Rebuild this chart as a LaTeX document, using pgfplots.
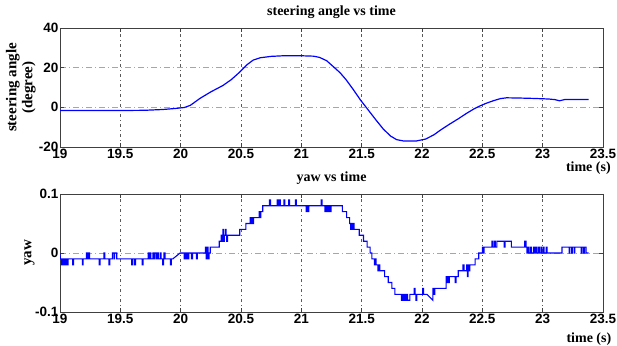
\documentclass[border=0pt]{standalone}
\usepackage{fontspec}
\setmainfont{Liberation Serif}
\newfontfamily\arialfont{Liberation Sans}
\usepackage{pgfplots}
\pgfplotsset{compat=1.18}
\usepackage{pgfplotstable}

\pgfplotstableread{
t s
19.00 -1.6
19.50 -1.6
19.70 -1.5
19.85 -1.1
19.95 -0.6
20.03 -0.1
20.08 1.0
20.16 4.5
20.25 7.8
20.35 11.0
20.42 14.0
20.49 17.8
20.55 21.5
20.60 23.8
20.66 25.0
20.75 25.7
20.85 26.0
21.00 26.0
21.10 25.8
21.15 25.2
21.21 23.5
21.26 20.8
21.32 17.5
21.37 14.0
21.43 9.0
21.49 3.7
21.55 -1.0
21.62 -6.5
21.68 -11.0
21.74 -14.5
21.79 -16.3
21.85 -17.0
21.95 -17.0
22.03 -16.0
22.10 -13.8
22.15 -11.6
22.22 -8.8
22.30 -5.8
22.37 -3.0
22.43 -0.8
22.48 0.7
22.53 2.0
22.59 3.3
22.65 4.4
22.70 4.8
22.80 4.7
22.92 4.5
23.05 4.2
23.10 3.9
23.14 3.3
23.18 3.9
23.25 4.0
23.38 4.0
}\steer

\pgfplotstableread{
t y
19.000 0
19.003 -0.01
19.012 -0.01
19.012 -0.02
19.018 -0.02
19.018 -0.01
19.025 -0.01
19.025 -0.02
19.035 -0.02
19.035 -0.01
19.045 -0.01
19.045 -0.02
19.052 -0.02
19.052 -0.01
19.060 -0.01
19.060 -0.02
19.066 -0.02
19.066 -0.01
19.105 -0.01
19.105 -0.02
19.113 -0.02
19.113 -0.01
19.185 -0.01
19.185 -0.02
19.192 -0.02
19.192 -0.01
19.218 -0.01
19.218 0
19.228 0
19.228 -0.01
19.235 -0.01
19.235 0
19.245 0
19.245 -0.01
19.325 -0.01
19.325 -0.02
19.333 -0.02
19.333 -0.01
19.365 -0.01
19.365 0
19.372 0
19.372 -0.01
19.405 -0.01
19.405 -0.02
19.413 -0.02
19.413 -0.01
19.435 -0.01
19.435 0
19.448 0
19.448 -0.01
19.452 -0.01
19.452 0
19.470 0
19.470 -0.01
19.595 -0.01
19.595 -0.02
19.603 -0.02
19.603 -0.01
19.618 -0.01
19.618 -0.02
19.626 -0.02
19.626 -0.01
19.680 -0.01
19.680 -0.02
19.688 -0.02
19.688 -0.01
19.730 -0.01
19.730 0
19.738 0
19.738 -0.01
19.745 -0.01
19.745 0
19.752 0
19.752 -0.01
19.770 -0.01
19.770 0
19.778 0
19.778 -0.01
19.785 -0.01
19.785 0
19.800 0
19.800 -0.01
19.808 -0.01
19.808 0
19.815 0
19.815 -0.01
19.830 -0.01
19.830 0
19.838 0
19.838 -0.01
19.850 -0.01
19.850 -0.02
19.858 -0.02
19.858 -0.01
19.862 -0.01
19.862 0
19.870 0
19.870 -0.01
19.915 -0.01
19.915 -0.02
19.922 -0.02
19.922 -0.01
19.935 -0.01
19.995 0
20.030 0
20.030 -0.01
20.038 -0.01
20.038 0
20.045 0
20.045 -0.01
20.052 -0.01
20.052 0
20.060 0
20.060 -0.01
20.068 -0.01
20.068 0
20.090 0
20.090 -0.01
20.098 -0.01
20.098 0
20.130 0
20.130 -0.01
20.138 -0.01
20.138 0
20.205 0
20.205 0.01
20.212 0.01
20.212 -0.01
20.220 -0.01
20.220 0.01
20.228 0.01
20.228 -0.01
20.235 -0.01
20.235 0
20.245 0
20.245 0.01
20.320 0.01
20.320 0.02
20.335 0.02
20.335 0.03
20.342 0.03
20.342 0.02
20.350 0.02
20.350 0.04
20.356 0.04
20.356 0.02
20.362 0.02
20.362 0.03
20.370 0.03
20.370 0.04
20.376 0.04
20.376 0.03
20.382 0.03
20.382 0.02
20.388 0.02
20.388 0.03
20.490 0.03
20.490 0.04
20.540 0.04
20.540 0.05
20.575 0.05
20.575 0.06
20.582 0.06
20.582 0.05
20.590 0.05
20.590 0.06
20.598 0.06
20.598 0.05
20.605 0.05
20.605 0.06
20.650 0.06
20.650 0.07
20.658 0.07
20.658 0.06
20.665 0.06
20.665 0.07
20.680 0.07
20.680 0.08
20.735 0.08
20.735 0.09
20.745 0.09
20.745 0.08
20.800 0.08
20.800 0.09
20.808 0.09
20.808 0.08
20.818 0.08
20.818 0.09
20.826 0.09
20.826 0.08
20.855 0.08
20.855 0.09
20.863 0.09
20.863 0.08
20.895 0.08
20.895 0.09
20.903 0.09
20.903 0.08
20.950 0.08
20.950 0.09
20.958 0.09
20.958 0.08
21.040 0.08
21.040 0.07
21.047 0.07
21.047 0.08
21.055 0.08
21.055 0.07
21.062 0.07
21.062 0.08
21.165 0.08
21.165 0.09
21.172 0.09
21.172 0.08
21.195 0.08
21.195 0.07
21.202 0.07
21.202 0.08
21.210 0.08
21.210 0.07
21.217 0.07
21.217 0.08
21.225 0.08
21.225 0.07
21.232 0.07
21.232 0.08
21.240 0.08
21.240 0.07
21.247 0.07
21.247 0.08
21.340 0.08
21.340 0.07
21.375 0.07
21.375 0.06
21.400 0.06
21.400 0.05
21.408 0.05
21.408 0.04
21.415 0.04
21.415 0.05
21.422 0.05
21.422 0.04
21.430 0.04
21.430 0.05
21.437 0.05
21.437 0.04
21.480 0.04
21.480 0.03
21.515 0.03
21.515 0.02
21.545 0.02
21.545 0.01
21.570 0.01
21.570 0
21.585 0
21.585 -0.01
21.605 -0.01
21.605 -0.02
21.612 -0.02
21.612 -0.01
21.620 -0.01
21.620 -0.02
21.635 -0.02
21.635 -0.03
21.642 -0.03
21.642 -0.02
21.650 -0.02
21.650 -0.03
21.690 -0.03
21.690 -0.04
21.720 -0.04
21.720 -0.05
21.750 -0.05
21.750 -0.06
21.775 -0.06
21.775 -0.07
21.830 -0.07
21.830 -0.08
21.837 -0.08
21.837 -0.07
21.845 -0.07
21.845 -0.08
21.852 -0.08
21.852 -0.07
21.860 -0.07
21.860 -0.08
21.868 -0.08
21.868 -0.07
21.880 -0.07
21.880 -0.08
21.900 -0.08
21.900 -0.07
21.935 -0.07
21.935 -0.06
21.942 -0.06
21.942 -0.07
21.950 -0.07
21.950 -0.08
21.958 -0.08
21.958 -0.07
22.005 -0.07
22.005 -0.06
22.012 -0.06
22.012 -0.07
22.040 -0.07
22.090 -0.08
22.090 -0.06
22.100 -0.06
22.100 -0.07
22.106 -0.07
22.106 -0.06
22.200 -0.06
22.200 -0.04
22.206 -0.04
22.206 -0.05
22.213 -0.05
22.213 -0.04
22.220 -0.04
22.220 -0.05
22.227 -0.05
22.227 -0.04
22.275 -0.04
22.275 -0.05
22.282 -0.05
22.282 -0.04
22.300 -0.04
22.300 -0.03
22.340 -0.03
22.340 -0.02
22.348 -0.02
22.348 -0.03
22.370 -0.03
22.370 -0.02
22.376 -0.02
22.376 -0.04
22.382 -0.04
22.382 -0.02
22.390 -0.02
22.390 -0.03
22.396 -0.03
22.396 -0.02
22.440 -0.02
22.440 -0.01
22.470 -0.01
22.470 0
22.500 0
22.500 0.01
22.506 0.01
22.506 0
22.515 0
22.515 0.01
22.580 0.01
22.580 0.02
22.586 0.02
22.586 0.01
22.600 0.01
22.600 0.02
22.608 0.02
22.608 0.01
22.620 0.01
22.620 0.02
22.680 0.02
22.680 0.01
22.688 0.01
22.688 0.02
22.740 0.02
22.740 0.01
22.850 0.01
22.850 0.02
22.862 0.02
22.862 0.01
22.870 0.01
22.870 0
22.880 0
22.880 0.01
22.888 0.01
22.888 0
22.900 0
22.900 0.01
22.908 0.01
22.908 0
22.925 0
22.925 0.01
22.932 0.01
22.932 0
22.945 0
22.945 0.01
22.952 0.01
22.952 0
22.965 0
22.965 0.01
22.972 0.01
22.972 0
22.985 0
22.985 0.01
22.990 0.01
22.990 0
23.005 0
23.005 0.01
23.012 0.01
23.012 0
23.030 0
23.030 0.01
23.036 0.01
23.036 0
23.160 0
23.160 0.01
23.220 0.01
23.220 0
23.226 0
23.226 0.01
23.240 0.01
23.240 0
23.246 0
23.246 0.01
23.260 0.01
23.260 0
23.266 0
23.266 0.01
23.320 0.01
23.320 0
23.327 0
23.327 0.01
23.340 0.01
23.340 0
23.347 0
23.347 0.01
23.360 0.01
23.360 0
23.380 0
}\yaw

\pgfplotsset{
  mlab/.style={
    scale only axis,
    width=543pt,
    xmin=19, xmax=23.5,
    xtick={19,19.5,20,20.5,21,21.5,22,22.5,23,23.5},
    xticklabels={19,19.5,20,20.5,21,21.5,22,22.5,23,23.5},
    tick align=inside,
    major tick length=4pt,
    axis line style={black!75, line width=0.6pt},
    tick style={black!75, line width=0.6pt},
    ticklabel style={font=\arialfont\bfseries\fontsize{13.5}{15}\selectfont, text=black},
    xticklabel style={inner sep=1pt, yshift=-1pt},
    yticklabel style={inner sep=1.5pt},
    xmajorgrids, ymajorgrids,
    x grid style={black!65, line width=0.5pt, dash pattern=on 3pt off 3pt on 1pt off 3pt},
    y grid style={black!35, line width=0.5pt, dash pattern=on 6pt off 3pt on 1pt off 3pt},
    title style={font=\bfseries\fontsize{14}{16}\selectfont, inner sep=3pt},
    ylabel style={font=\bfseries\fontsize{15}{16}\selectfont, align=center},
    xlabel style={font=\bfseries\fontsize{14}{15}\selectfont, anchor=center},
  }
}

\begin{document}
\begin{tikzpicture}
\path[use as bounding box] (0,0) rectangle (617pt,345pt);
\begin{axis}[mlab,
  at={(60pt,198pt)}, anchor=south west,
  height=119pt,
  ymin=-20, ymax=40,
  ytick={-20,0,20,40},
  yticklabels={-20,0,20,40},
  title={steering angle vs time},
  ylabel={steering angle\\(degree)},
  ylabel style={at={(axis description cs:-0.072,0.5)}, anchor=center},
  xlabel={time (s)},
  xlabel style={at={(axis description cs:0.973,-0.18)}},
]
\addplot[blue, line width=1.2pt] table[x=t, y=s] {\steer};
\end{axis}
\begin{axis}[mlab,
  at={(60pt,33pt)}, anchor=south west,
  height=118pt,
  ymin=-0.1, ymax=0.1,
  ytick={-0.1,0,0.1},
  yticklabels={-0.1,0,0.1},
  title={yaw vs time},
  ylabel={yaw},
  ylabel style={at={(axis description cs:-0.056,0.5)}, anchor=center},
  xlabel={time (s)},
  xlabel style={at={(axis description cs:0.974,-0.23)}},
]
\addplot[blue, line width=1.1pt] table[x=t, y=y] {\yaw};
\end{axis}
\end{tikzpicture}
\end{document}
